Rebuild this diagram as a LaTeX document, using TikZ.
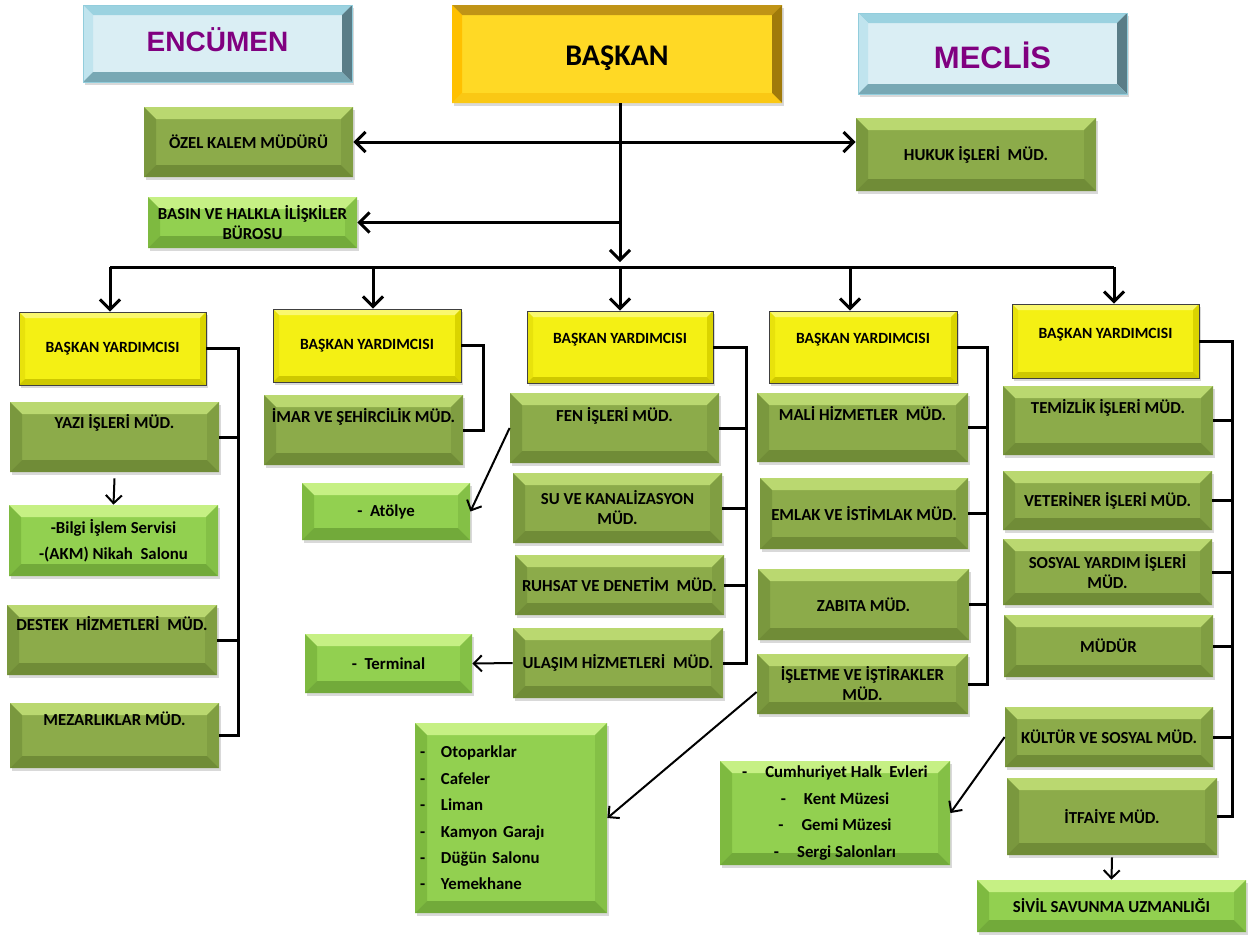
\documentclass[tikz,border=0pt]{standalone}
\usepackage{fontspec}
\setmainfont{Carlito}
\newfontfamily\arialfont{Liberation Sans}
\usetikzlibrary{arrows.meta,shadows}
\definecolor{olvF}{RGB}{140,171,74}
\definecolor{olvT}{RGB}{186,216,112}
\definecolor{olvL}{RGB}{122,152,62}
\definecolor{olvR}{RGB}{128,158,66}
\definecolor{olvB}{RGB}{112,140,55}
\definecolor{limF}{RGB}{146,208,80}
\definecolor{limT}{RGB}{198,240,132}
\definecolor{limL}{RGB}{126,186,64}
\definecolor{limR}{RGB}{132,192,70}
\definecolor{limB}{RGB}{114,170,58}
\definecolor{yelF}{RGB}{244,240,20}
\definecolor{yelT}{RGB}{250,248,110}
\definecolor{yelL}{RGB}{232,226,12}
\definecolor{yelR}{RGB}{218,212,0}
\definecolor{yelB}{RGB}{206,200,0}
\definecolor{gldF}{RGB}{255,217,37}
\definecolor{gldT}{RGB}{192,148,22}
\definecolor{gldL}{RGB}{255,192,0}
\definecolor{gldR}{RGB}{160,122,10}
\definecolor{gldB}{RGB}{250,200,20}
\definecolor{bluF}{RGB}{218,238,244}
\definecolor{bluT}{RGB}{155,210,224}
\definecolor{bluL}{RGB}{192,228,238}
\definecolor{bluR}{RGB}{90,125,135}
\definecolor{bluB}{RGB}{120,168,180}
\definecolor{bluD}{RGB}{146,205,220}
\definecolor{purp}{RGB}{128,0,128}
\begin{document}
\begin{tikzpicture}[x=0.5pt, y=-0.5pt,
  bevel/.style n args={6}{fill=#2, path picture={
    \path (path picture bounding box.north west) coordinate (pa)
          (path picture bounding box.north east) coordinate (pc)
          (path picture bounding box.south east) coordinate (pb)
          (path picture bounding box.south west) coordinate (pd);
    \path ([shift={(#1,-#1)}]pa) coordinate (qa) ([shift={(-#1,-#1)}]pc) coordinate (qc)
          ([shift={(-#1,#1)}]pb) coordinate (qb) ([shift={(#1,#1)}]pd) coordinate (qd);
    \fill[#3] (pa) -- (pc) -- (qc) -- (qa) -- cycle;
    \fill[#4] (pa) -- (pd) -- (qd) -- (qa) -- cycle;
    \fill[#5] (pc) -- (pb) -- (qb) -- (qc) -- cycle;
    \fill[#6] (pd) -- (pb) -- (qb) -- (qd) -- cycle;}},
  box/.style 2 args={rectangle, inner sep=1pt, align=center, minimum width=#1pt, minimum height=#2pt,
    font=\bfseries\fontsize{8.4}{10}\selectfont, drop shadow={opacity=0.3, shadow xshift=1pt, shadow yshift=-1.5pt}},
  olive/.style={bevel={6pt}{olvF}{olvT}{olvL}{olvR}{olvB}},
  lime/.style={bevel={6pt}{limF}{limT}{limL}{limR}{limB}},
  deputy/.style={bevel={3pt}{yelF}{yelT}{yelL}{yelR}{yelB}, draw=black!75, font=\bfseries\fontsize{7.8}{9}\selectfont},
  chief/.style={bevel={5pt}{gldF}{gldT}{gldL}{gldR}{gldB}, font=\bfseries\fontsize{15}{18}\selectfont},
  council/.style={bevel={5pt}{bluF}{bluT}{bluL}{bluR}{bluB}, draw=bluD, text=purp, font=\arialfont\bfseries\fontsize{14}{17}\selectfont},
  list/.style={font=\bfseries\fontsize{8.4}{13.2}\selectfont},
  up/.style={text height=6pt, text depth=#1},
  link/.style={line width=1.5pt},
  arr/.style={link, -{Straight Barb[length=5pt,width=10pt]}},
  arrs/.style={link, {Straight Barb[length=5pt,width=10pt]}-{Straight Barb[length=5pt,width=10pt]}},
  sub/.style={line width=1pt, -{Straight Barb[length=4pt,width=8pt]}}]
  \useasboundingbox (0,0) rectangle (1258,934);

  % top row
  \node[box={134.5}{38.5}, council, text height=7.5pt, text depth=0pt] (enc) at (217.5,43.5) {ENCÜMEN};
  \node[box={165}{49}, chief, text height=11pt, text depth=0pt] (bsk) at (617,54) {BAŞKAN};
  \node[box={134.5}{40.5}, council, font=\arialfont\bfseries\fontsize{15.5}{18}\selectfont,
        text height=15pt, text depth=0pt] (mec) at (992.5,53.5) {MECLİS};
  \node[box={104.5}{35}, olive] (ozel) at (248.5,142) {ÖZEL KALEM MÜDÜRÜ};
  \node[box={104.5}{25.5}, lime] (basin) at (252.5,222.5) {BASIN VE HALKLA İLİŞKİLER\\BÜROSU};
  \node[box={120}{36.5}, olive] (hukuk) at (976,154.5) {HUKUK İŞLERİ\ \ MÜD.};

  % deputies
  \node[box={93.5}{36.5}, deputy] (by1) at (112.5,348.5) {BAŞKAN YARDIMCISI};
  \node[box={94}{36.5}, deputy] (by2) at (367,345.5) {BAŞKAN YARDIMCISI};
  \node[box={93}{36}, deputy, up=10pt] (by3) at (620,347) {BAŞKAN YARDIMCISI};
  \node[box={94}{36}, deputy, up=10pt] (by4) at (863,347) {BAŞKAN YARDIMCISI};
  \node[box={93.5}{37}, deputy, up=9pt] (by5) at (1105.5,341) {BAŞKAN YARDIMCISI};

  % column 1
  \node[box={104.5}{35}, olive, up=15pt] (yazi) at (114.5,437) {YAZI İŞLERİ MÜD.};
  \node[box={104.5}{35.5}, lime, list] (bilgi) at (113.5,540.5) {-Bilgi İşlem Servisi\\-(AKM) Nikah\ \ Salonu};
  \node[box={105}{35}, olive, up=16pt] (destek) at (112,640) {DESTEK\ \ HİZMETLERİ\ \ MÜD.};
  \node[box={104.5}{32.5}, olive, up=16pt] (mezar) at (114.5,735.5) {MEZARLIKLAR MÜD.};

  % column 2
  \node[box={99.5}{35}, olive, up=14pt] (imar) at (363.5,430) {İMAR VE ŞEHİRCİLİK MÜD.};
  \node[box={84}{28.5}, lime] (atolye) at (386,511.5) {-\ \ Atölye};
  \node[box={83.5}{29.5}, lime] (terminal) at (388.5,663.5) {-\ \ Terminal};

  % column 3
  \node[box={104.5}{35}, olive, up=13pt] (fen) at (614.5,428) {FEN İŞLERİ MÜD.};
  \node[box={104.5}{35}, olive] (su) at (617.5,508) {SU VE KANALİZASYON\\MÜD.};
  \node[box={104.5}{30}, olive] (ruhsat) at (619.5,585) {RUHSAT VE DENETİM\ \ MÜD.};
  \node[box={105}{35}, olive] (ulasim) at (618,663) {ULAŞIM HİZMETLERİ\ \ MÜD.};
  \node[box={96}{95}, lime, list, align=left, text width=91pt, inner xsep=2.5pt] (otopark) at (511,818)
    {\makebox[10.5pt][l]{-}Otoparklar\\\makebox[10.5pt][l]{-}Cafeler\\\makebox[10.5pt][l]{-}Liman\\
     \makebox[10.5pt][l]{-}Kamyon Garajı\\\makebox[10.5pt][l]{-}Düğün Salonu\\\makebox[10.5pt][l]{-}Yemekhane};

  % column 4
  \node[box={105.5}{34.5}, olive, up=13pt] (mali) at (862.5,427.5) {MALİ HİZMETLER\ \ MÜD.};
  \node[box={104}{35.5}, olive] (emlak) at (864,513.5) {EMLAK VE İSTİMLAK MÜD.};
  \node[box={105.5}{35.5}, olive] (zabita) at (863.5,604.5) {ZABITA MÜD.};
  \node[box={105.5}{30}, olive] (isletme) at (862.5,684) {İŞLETME VE İŞTİRAKLER\\MÜD.};
  \node[box={115}{52}, lime, list] (cumh) at (835,813)
    {-\hspace{9pt}Cumhuriyet Halk\ \ Evleri\\-\hspace{9pt}Kent Müzesi\\-\hspace{9pt}Gemi Müzesi\\-\hspace{9pt}Sergi Salonları};

  % column 5
  \node[box={105}{34.5}, olive, up=13pt] (temiz) at (1108,420.5) {TEMİZLİK İŞLERİ MÜD.};
  \node[box={104.5}{29.5}, olive] (veter) at (1107.5,500.5) {VETERİNER İŞLERİ MÜD.};
  \node[box={104.5}{33}, olive] (sosyal) at (1107.5,572) {SOSYAL YARDIM İŞLERİ\\MÜD.};
  \node[box={104.5}{31}, olive] (mudur) at (1108.5,646) {MÜDÜR};
  \node[box={104}{30}, olive] (kultur) at (1109,737) {KÜLTÜR VE SOSYAL MÜD.};
  \node[box={105}{38.5}, olive] (itfaiye) at (1112,816.5) {İTFAİYE MÜD.};
  \node[box={134.5}{26}, lime] (sivil) at (1111.5,906) {SİVİL SAVUNMA UZMANLIĞI};

  % main lines
  \coordinate (hub) at (620,267);
  \coordinate (t1) at (110,267);
  \coordinate (t2) at (373,267);
  \coordinate (t4) at (850,267);
  \coordinate (t5) at (1114,267);
  \draw[link] (t1) -- (t5);
  \draw[arr] (bsk.south -| hub) -- ([yshift=2.5pt]hub);
  \draw[arrs] (ozel.east) -- (ozel.east -| hukuk.west);
  \draw[arr] (hub |- basin.east) -- (basin.east);
  \draw[arr] (t1) -- (t1 |- by1.north);
  \draw[arr] (t2) -- (t2 |- by2.north);
  \draw[arr] (hub) -- (hub |- by3.north);
  \draw[arr] (t4) -- (t4 |- by4.north);
  \draw[arr] (t5) -- (t5 |- by5.north);

  % brackets
  \coordinate (c1) at (238,0);
  \coordinate (c2) at (483,0);
  \coordinate (c3) at (746,0);
  \coordinate (c4) at (987,0);
  \coordinate (c5) at (1232,0);
  \draw[link] (by1.east) -| (c1 |- mezar.east) -- (mezar.east);
  \foreach \n in {yazi,destek} \draw[link] (\n.east) -- (\n.east -| c1);
  \draw[link] (by2.east) -| (c2 |- imar.east) -- (imar.east);
  \draw[link] (by3.east) -| (c3 |- ulasim.east) -- (ulasim.east);
  \foreach \n in {fen,su,ruhsat} \draw[link] (\n.east) -- (\n.east -| c3);
  \draw[link] (by4.east) -| (c4 |- isletme.east) -- (isletme.east);
  \foreach \n in {mali,emlak,zabita} \draw[link] (\n.east) -- (\n.east -| c4);
  \draw[link] (by5.east) -| (c5 |- itfaiye.east) -- (itfaiye.east);
  \foreach \n in {temiz,veter,sosyal,mudur,kultur} \draw[link] (\n.east) -- (\n.east -| c5);

  % sub units
  \draw[sub] ([yshift=-3pt]yazi.south) -- (bilgi.north);
  \draw[sub] (fen.west) -- (atolye.east);
  \draw[sub] (ulasim.west) -- (terminal.east);
  \draw[sub] ([yshift=-4pt]isletme.west) -- (otopark.east);
  \draw[sub] (kultur.west) -- (cumh.east);
  \draw[sub] ([yshift=-1pt]itfaiye.south) -- (sivil.north);
\end{tikzpicture}
\end{document}
